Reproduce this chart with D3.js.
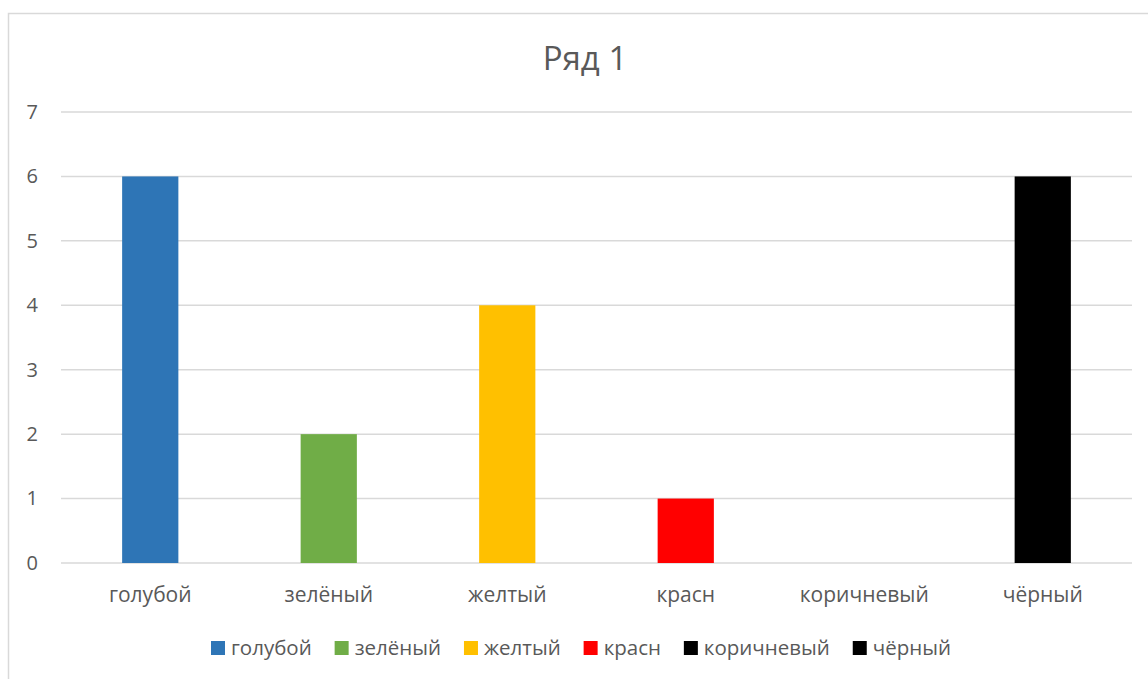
<!DOCTYPE html>
<html><head><meta charset="utf-8">
<script src="https://cdn.jsdelivr.net/npm/d3@7"></script>
<style>body{margin:0;background:#fff;} text{font-family:"Open Sans","Noto Sans",sans-serif;}</style>
</head><body>
<svg id="chart" width="1148" height="679"></svg>
<script>
const title = "Ряд 1";
const categories = ["голубой","зелёный","желтый","красн","коричневый","чёрный"];
const values = [6, 2, 4, 1, 0, 6];
const colors = ["#2E75B6","#70AD47","#FFC000","#FF0000","#000000","#000000"];
const yTicks = [0,1,2,3,4,5,6,7];

const svg = d3.select("#chart");
svg.append("rect").attr("x",8.5).attr("y",13.5).attr("width",1160).attr("height",700)
  .attr("fill","#fff").attr("stroke","#d9d9d9").attr("stroke-width",1.5);

const x = d3.scaleBand().domain(categories).range([61,1132]).paddingInner(0.685).paddingOuter(0.3425);
const y = d3.scaleLinear().domain([0,7]).range([563,112]);

svg.append("g").selectAll("line").data(yTicks).join("line")
  .attr("x1",61).attr("x2",1132).attr("y1",d=>y(d)).attr("y2",d=>y(d))
  .attr("stroke","#d9d9d9").attr("stroke-width",1.5);

const yAxis = svg.append("g").attr("transform","translate(61,0)")
  .call(d3.axisLeft(y).tickValues(yTicks).tickFormat(d3.format("d")).tickSize(0).tickPadding(23));
yAxis.select(".domain").remove();
yAxis.selectAll("text").attr("fill","#595959").style("font-size","20px").style("font-family","'Open Sans',sans-serif");

svg.append("g").selectAll("rect").data(categories).join("rect")
  .attr("x",d=>x(d)).attr("width",x.bandwidth())
  .attr("y",(d,i)=>y(values[i])).attr("height",(d,i)=>y(0)-y(values[i]))
  .attr("fill",(d,i)=>colors[i]);

const xAxis = svg.append("g").attr("transform","translate(0,563)")
  .call(d3.axisBottom(x).tickSize(0).tickPadding(24));
xAxis.select(".domain").remove();
xAxis.selectAll("text").attr("fill","#595959").style("font-size","21px").style("font-family","'Open Sans',sans-serif");

svg.append("text").attr("x",585).attr("y",70).attr("text-anchor","middle")
  .attr("fill","#595959").style("font-size","33px").text(title);

// legend
const lg = svg.append("g");
const items = lg.selectAll("g").data(categories).join("g");
items.append("rect").attr("width",14).attr("height",14).attr("y",-14).attr("fill",(d,i)=>colors[i]);
items.append("text").attr("x",20).attr("y",0).attr("fill","#595959").style("font-size","20.5px").text(d=>d);
const widths = [];
items.each(function(){ widths.push(20 + this.querySelector("text").getComputedTextLength()); });
const legendLeft = 211, legendRight = 951;
const gap = (legendRight - legendLeft - d3.sum(widths)) / (widths.length - 1);
let cx = 0;
items.each(function(d,i){
  d3.select(this).attr("transform",`translate(${cx},0)`);
  cx += widths[i] + gap;
});
lg.attr("transform",`translate(${legendLeft},655)`);
</script>
</body></html>
